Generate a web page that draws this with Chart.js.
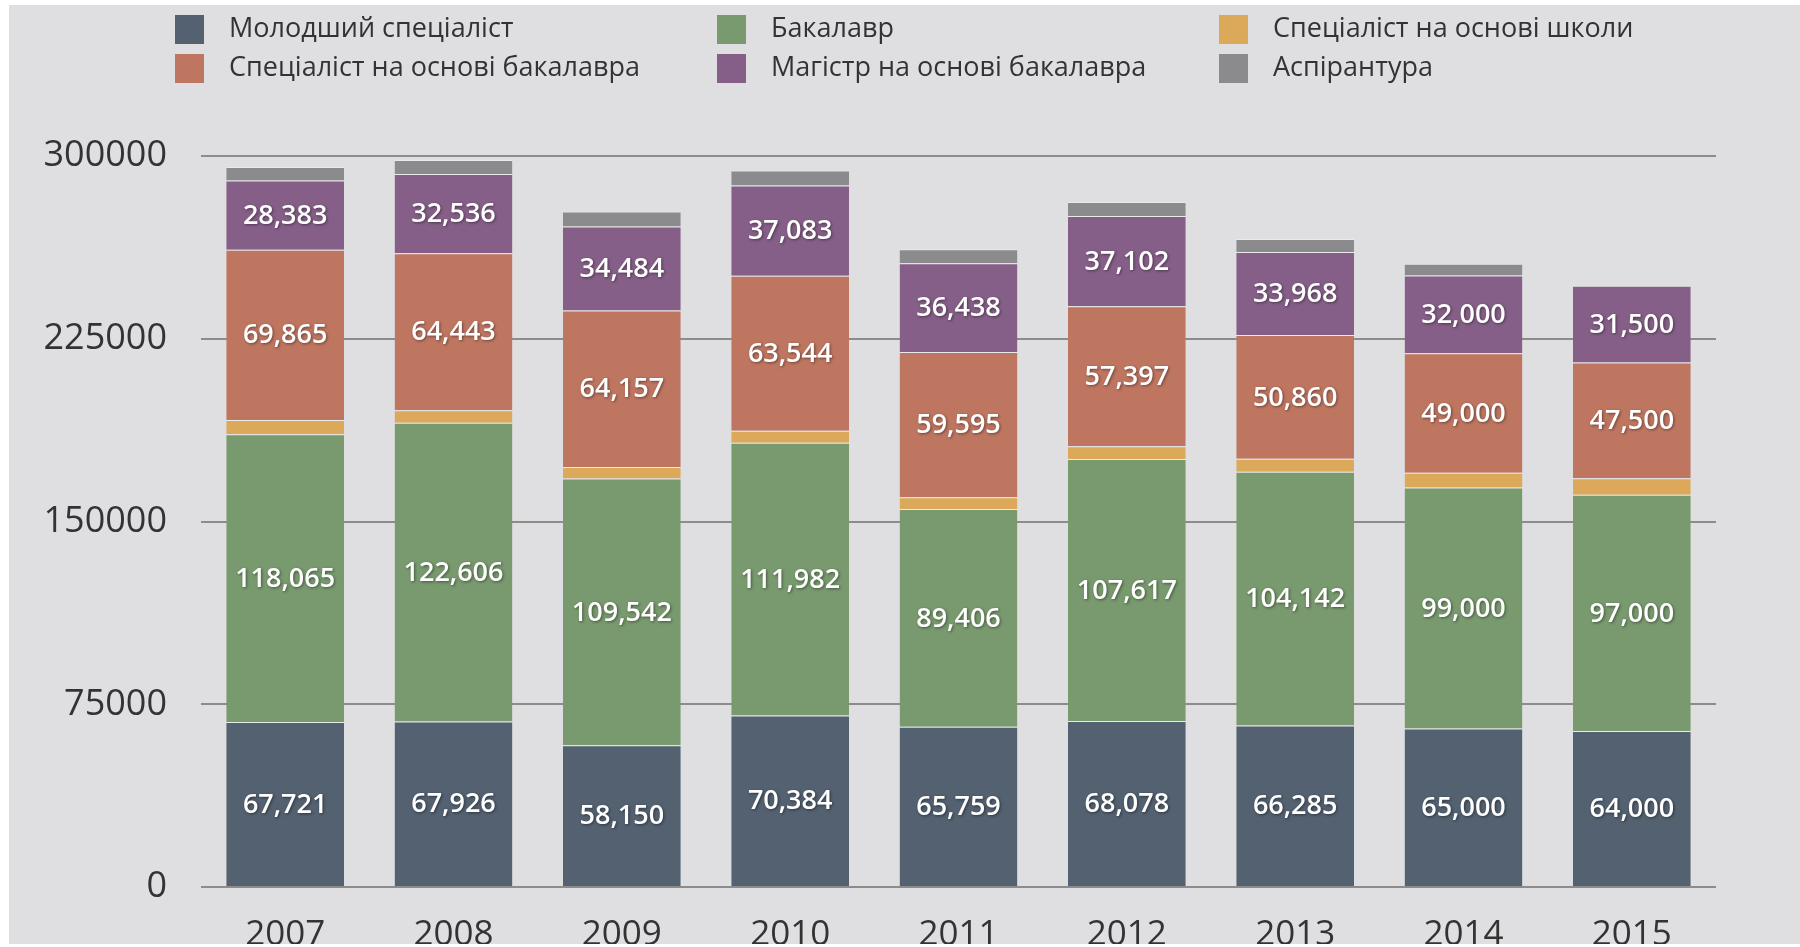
<!DOCTYPE html>
<html>
<head>
<meta charset="utf-8">
<script src="https://cdn.jsdelivr.net/npm/chart.js@4"></script>
<style>
  html, body { margin: 0; padding: 0; background: #ffffff; }
  #panel {
    position: absolute; left: 9px; top: 5px; width: 1791px; height: 939px;
    background: #dfdfe1; overflow: hidden;
  }
  #wrap { position: absolute; left: -9px; top: -5px; width: 1800px; height: 947px; }
  #legend {
    position: absolute; left: 0; top: 0; width: 1800px; height: 100px;
    font-family: "Open Sans", "Noto Sans", sans-serif; font-size: 27px; color: #333333;
  }
  .item { position: absolute; height: 30px; line-height: 30px; white-space: nowrap; }
  .item span.box { position: absolute; left: 0; top: 1px; width: 29px; height: 29px; }
  .item span.txt { position: absolute; left: 54px; top: -2px; }
</style>
</head>
<body>
<div id="panel">
  <div id="wrap">
    <canvas id="chart" width="1800" height="947"></canvas>
    <div id="legend"></div>
  </div>
</div>
<script>
const years = ["2007", "2008", "2009", "2010", "2011", "2012", "2013", "2014", "2015"];

const seriesNames = [
  "Молодший спеціаліст",
  "Бакалавр",
  "Спеціаліст на основі школи",
  "Спеціаліст на основі бакалавра",
  "Магістр на основі бакалавра",
  "Аспірантура"
];

const juniorSpecialist = [67721, 67926, 58150, 70384, 65759, 68078, 66285, 65000, 64000];
const bachelor = [118065, 122606, 109542, 111982, 89406, 107617, 104142, 99000, 97000];
const schoolSpecialist = [5900, 5100, 4700, 4900, 4800, 5200, 5300, 6000, 6800];
const bachelorSpecialist = [69865, 64443, 64157, 63544, 59595, 57397, 50860, 49000, 47500];
const master = [28383, 32536, 34484, 37083, 36438, 37102, 33968, 32000, 31500];
const postgraduate = [5600, 5750, 6150, 6150, 5750, 5750, 5350, 4800, 0];

const yTicks = [0, 75000, 150000, 225000, 300000];

const colors = ["#536171", "#789a6e", "#dca95b", "#bf7661", "#865f88", "#8b8b8d"];
const labelled = [true, true, false, true, true, false];

const allSeries = [juniorSpecialist, bachelor, schoolSpecialist, bachelorSpecialist, master, postgraduate];

// legend, 3 columns x 2 rows
const legendPos = [
  [175, 14], [717, 14], [1219, 14],
  [175, 53], [717, 53], [1219, 53]
];
const legendEl = document.getElementById("legend");
seriesNames.forEach((name, i) => {
  const div = document.createElement("div");
  div.className = "item";
  div.style.left = legendPos[i][0] + "px";
  div.style.top = legendPos[i][1] + "px";
  div.innerHTML = '<span class="box" style="background:' + colors[i] + '"></span><span class="txt">' + name + '</span>';
  legendEl.appendChild(div);
});

const fontFamily = '"Open Sans", "Noto Sans", sans-serif';

const valueLabels = {
  id: "valueLabels",
  afterDatasetsDraw(chart) {
    const ctx = chart.ctx;
    ctx.save();
    ctx.font = "600 27px " + fontFamily;
    ctx.fillStyle = "#ffffff";
    ctx.textAlign = "center";
    ctx.textBaseline = "middle";
    ctx.shadowColor = "rgba(0,0,0,0.45)";
    ctx.shadowBlur = 3;
    ctx.shadowOffsetX = 1;
    ctx.shadowOffsetY = 1;
    chart.data.datasets.forEach((ds, i) => {
      if (!labelled[i]) return;
      chart.getDatasetMeta(i).data.forEach((bar, j) => {
        const v = ds.data[j];
        if (!v) return;
        const p = bar.getProps(["x", "y", "base"], true);
        ctx.fillText(v.toLocaleString("en-US"), p.x, (p.y + p.base) / 2 + 1);
      });
    });
    ctx.restore();
  }
};

new Chart(document.getElementById("chart"), {
  type: "bar",
  data: {
    labels: years,
    datasets: allSeries.map((data, i) => ({
      label: seriesNames[i],
      data: data,
      backgroundColor: colors[i],
      borderColor: "rgba(255,255,255,0.35)",
      borderWidth: { top: 1, left: 0, right: 0, bottom: 0 },
      borderSkipped: false,
      categoryPercentage: 1.0,
      barPercentage: 0.70
    }))
  },
  options: {
    responsive: false,
    animation: false,
    layout: { padding: { top: 156, right: 84, bottom: 0, left: 0 } },
    plugins: {
      legend: { display: false },
      tooltip: { enabled: false }
    },
    scales: {
      x: {
        stacked: true,
        grid: { display: false },
        border: { display: false },
        ticks: {
          color: "#333333",
          font: { family: fontFamily, size: 35 },
          padding: 19
        },
        afterFit(scale) { scale.height = 60; }
      },
      y: {
        stacked: true,
        min: 0,
        max: 300000,
        afterBuildTicks(scale) { scale.ticks = yTicks.map(v => ({ value: v })); },
        grid: { color: "#8c8c8c", lineWidth: 2, drawTicks: false },
        border: { display: false },
        ticks: {
          color: "#333333",
          font: { family: fontFamily, size: 36 },
          padding: 34,
          callback: v => String(v)
        },
        afterFit(scale) { scale.width = 201; }
      }
    }
  },
  plugins: [valueLabels]
});
</script>
</body>
</html>
